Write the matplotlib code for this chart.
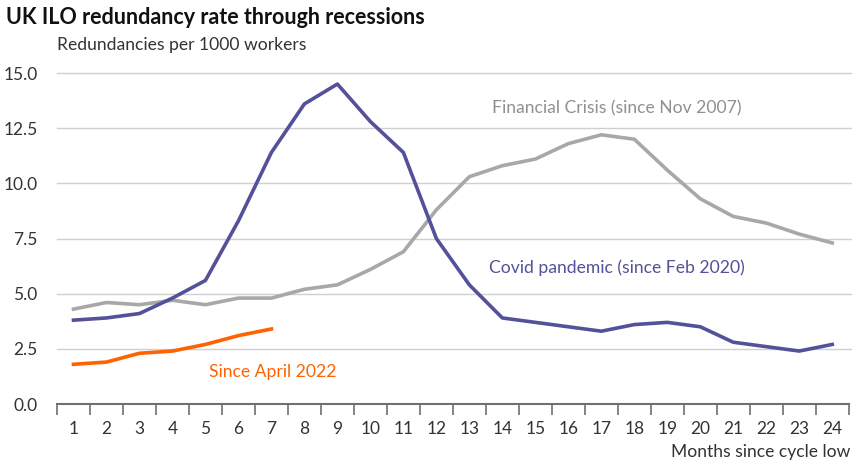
import matplotlib.pyplot as plt
import numpy as np
from matplotlib.ticker import FixedLocator

plt.rcParams['font.family'] = ['Lato', 'DejaVu Sans']

# Data
months = list(range(1, 25))
covid = [3.8, 3.9, 4.1, 4.8, 5.6, 8.3, 11.4, 13.6, 14.5, 12.8, 11.4, 7.5,
         5.4, 3.9, 3.7, 3.5, 3.3, 3.6, 3.7, 3.5, 2.8, 2.6, 2.4, 2.7]
financial = [4.3, 4.6, 4.5, 4.7, 4.5, 4.8, 4.8, 5.2, 5.4, 6.1, 6.9, 8.8,
             10.3, 10.8, 11.1, 11.8, 12.2, 12.0, 10.6, 9.3, 8.5, 8.2, 7.7, 7.3]
april22 = [1.8, 1.9, 2.3, 2.4, 2.7, 3.1, 3.4]
yticks = [0.0, 2.5, 5.0, 7.5, 10.0, 12.5, 15.0]

c_covid = '#525199'
c_fin = '#a8a8a8'
c_orange = '#ff6200'
c_text = '#333333'

fig = plt.figure(figsize=(8.53, 4.63), dpi=100)
ax = fig.add_axes([0.0668, 0.1274, 0.9282, 0.7149])

for y in yticks[1:]:
    ax.axhline(y, color='#d0d0d0', lw=1, zorder=0, xmin=0, xmax=1.01, clip_on=False)

ax.plot(months, financial, color=c_fin, lw=2.6, solid_joinstyle='round')
ax.plot(months, covid, color=c_covid, lw=2.6, solid_joinstyle='round')
ax.plot(months[:len(april22)], april22, color=c_orange, lw=2.6, solid_joinstyle='round')

ax.set_xlim(0.5, 24.5)
ax.set_ylim(0, 15)
ax.set_yticks(yticks)
ax.set_yticklabels([f'{v:.1f}' for v in yticks])
ax.set_xticks(months)
ax.xaxis.set_minor_locator(FixedLocator(np.arange(0.5, 25, 1)))
ax.tick_params(axis='x', which='major', length=0, pad=12, labelsize=12.5, colors=c_text)
ax.tick_params(axis='x', which='minor', length=8, width=1.2, color='#707070', direction='out')
ax.tick_params(axis='y', length=0, pad=14, labelsize=12.5, colors=c_text)

for s in ['top', 'right', 'left']:
    ax.spines[s].set_visible(False)
ax.spines['bottom'].set_color('#707070')
ax.spines['bottom'].set_linewidth(1.5)

ax.text(13.7, 13.4, 'Financial Crisis (since Nov 2007)', color='#909090', fontsize=12.6, va='center')
ax.text(13.6, 6.16, 'Covid pandemic (since Feb 2020)', color=c_covid, fontsize=12.6, va='center')
ax.text(5.1, 1.45, 'Since April 2022', color=c_orange, fontsize=12.6, va='center')

fig.text(0.007, 0.962, 'UK ILO redundancy rate through recessions', fontsize=15.5,
         fontweight='bold', color='#111111', va='center')
fig.text(0.0668, 0.902, 'Redundancies per 1000 workers', fontsize=12.6, color=c_text, va='center')
fig.text(0.997, 0.024, 'Months since cycle low', fontsize=12.6, color=c_text, ha='right', va='center')

fig.savefig('out.png', dpi=100)
